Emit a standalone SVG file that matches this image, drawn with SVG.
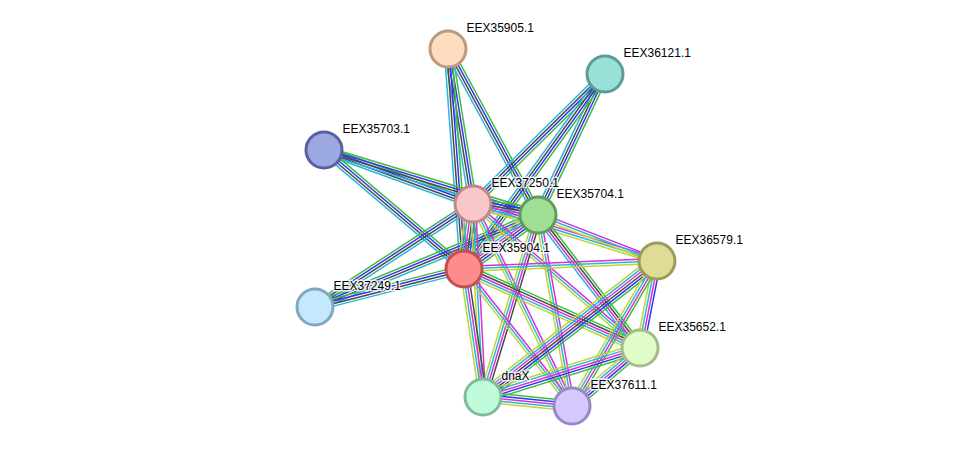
<svg xmlns="http://www.w3.org/2000/svg" width="976" height="451" viewBox="0 0 976 451">
<style>
line{stroke-width:1.5;fill:none}
.g{stroke:#3cbe3c}.b{stroke:#3434f4}.k{stroke:#4a4a4a}.c{stroke:#2ab6d8}.m{stroke:#d830d8}.y{stroke:#c2d430}
circle{stroke-width:3}
text{font-family:"Liberation Sans",Arial,sans-serif;font-size:12px;fill:#000;stroke:#fff;stroke-width:3;stroke-opacity:0.8;stroke-linejoin:round;paint-order:stroke}
</style>
<rect width="976" height="451" fill="#fff"/>
<g id="edges">
<!-- P1-A -->
<g transform="translate(448 49) rotate(80.84)"><line x2="157" y1="-3.75" y2="-3.75" class="g"/><line x2="157" y1="-1.25" y2="-1.25" class="b"/><line x2="157" y1="1.25" y2="1.25" class="k"/><line x2="157" y1="3.75" y2="3.75" class="c"/></g>
<!-- P1-B -->
<g transform="translate(448 49) rotate(61.54)"><line x2="188.8" y1="-3.75" y2="-3.75" class="g"/><line x2="188.8" y1="-1.25" y2="-1.25" class="b"/><line x2="188.8" y1="1.25" y2="1.25" class="k"/><line x2="188.8" y1="3.75" y2="3.75" class="c"/></g>
<!-- P1-C -->
<g transform="translate(448 49) rotate(85.84)"><line x2="220.6" y1="-3.75" y2="-3.75" class="g"/><line x2="220.6" y1="-1.25" y2="-1.25" class="b"/><line x2="220.6" y1="1.25" y2="1.25" class="k"/><line x2="220.6" y1="3.75" y2="3.75" class="c"/></g>
<!-- P2-A -->
<g transform="translate(605 74) rotate(135.44)"><line x2="185.3" y1="-3.75" y2="-3.75" class="g"/><line x2="185.3" y1="-1.25" y2="-1.25" class="b"/><line x2="185.3" y1="1.25" y2="1.25" class="k"/><line x2="185.3" y1="3.75" y2="3.75" class="c"/></g>
<!-- P2-B -->
<g transform="translate(605 74) rotate(115.41)"><line x2="156.1" y1="-3.75" y2="-3.75" class="g"/><line x2="156.1" y1="-1.25" y2="-1.25" class="b"/><line x2="156.1" y1="1.25" y2="1.25" class="k"/><line x2="156.1" y1="3.75" y2="3.75" class="c"/></g>
<!-- P2-C -->
<g transform="translate(605 74) rotate(125.87)"><line x2="240.6" y1="-3.75" y2="-3.75" class="g"/><line x2="240.6" y1="-1.25" y2="-1.25" class="b"/><line x2="240.6" y1="1.25" y2="1.25" class="k"/><line x2="240.6" y1="3.75" y2="3.75" class="c"/></g>
<!-- P3-A -->
<g transform="translate(324 150) rotate(19.92)"><line x2="158.5" y1="-3.75" y2="-3.75" class="g"/><line x2="158.5" y1="-1.25" y2="-1.25" class="b"/><line x2="158.5" y1="1.25" y2="1.25" class="k"/><line x2="158.5" y1="3.75" y2="3.75" class="c"/></g>
<!-- P3-B -->
<g transform="translate(324 150) rotate(16.90)"><line x2="223.7" y1="-3.75" y2="-3.75" class="g"/><line x2="223.7" y1="-1.25" y2="-1.25" class="b"/><line x2="223.7" y1="1.25" y2="1.25" class="k"/><line x2="223.7" y1="3.75" y2="3.75" class="c"/></g>
<!-- P3-C -->
<g transform="translate(324 150) rotate(40.36)"><line x2="183.7" y1="-3.75" y2="-3.75" class="g"/><line x2="183.7" y1="-1.25" y2="-1.25" class="b"/><line x2="183.7" y1="1.25" y2="1.25" class="k"/><line x2="183.7" y1="3.75" y2="3.75" class="c"/></g>
<!-- P4-A -->
<g transform="translate(315 307) rotate(-33.10)"><line x2="188.6" y1="-3.75" y2="-3.75" class="g"/><line x2="188.6" y1="-1.25" y2="-1.25" class="b"/><line x2="188.6" y1="1.25" y2="1.25" class="k"/><line x2="188.6" y1="3.75" y2="3.75" class="c"/></g>
<!-- P4-B -->
<g transform="translate(315 307) rotate(-22.42)"><line x2="241.2" y1="-3.75" y2="-3.75" class="g"/><line x2="241.2" y1="-1.25" y2="-1.25" class="b"/><line x2="241.2" y1="1.25" y2="1.25" class="k"/><line x2="241.2" y1="3.75" y2="3.75" class="c"/></g>
<!-- P4-C -->
<g transform="translate(315 307) rotate(-14.31)"><line x2="153.8" y1="-3.75" y2="-3.75" class="g"/><line x2="153.8" y1="-1.25" y2="-1.25" class="b"/><line x2="153.8" y1="1.25" y2="1.25" class="k"/><line x2="153.8" y1="3.75" y2="3.75" class="c"/></g>
<!-- A-B -->
<g transform="translate(473 204) rotate(9.61)"><line x2="65.9" y1="-6.25" y2="-6.25" class="g"/><line x2="65.9" y1="-3.75" y2="-3.75" class="b"/><line x2="65.9" y1="-1.25" y2="-1.25" class="k"/><line x2="65.9" y1="1.25" y2="1.25" class="m"/><line x2="65.9" y1="3.75" y2="3.75" class="c"/><line x2="65.9" y1="6.25" y2="6.25" class="y"/></g>
<!-- A-C -->
<g transform="translate(473 204) rotate(97.88)"><line x2="65.6" y1="-6.25" y2="-6.25" class="g"/><line x2="65.6" y1="-3.75" y2="-3.75" class="b"/><line x2="65.6" y1="-1.25" y2="-1.25" class="k"/><line x2="65.6" y1="1.25" y2="1.25" class="m"/><line x2="65.6" y1="3.75" y2="3.75" class="c"/><line x2="65.6" y1="6.25" y2="6.25" class="y"/></g>
<!-- B-C -->
<g transform="translate(538 215) rotate(143.88)"><line x2="91.6" y1="-6.25" y2="-6.25" class="g"/><line x2="91.6" y1="-3.75" y2="-3.75" class="b"/><line x2="91.6" y1="-1.25" y2="-1.25" class="k"/><line x2="91.6" y1="1.25" y2="1.25" class="m"/><line x2="91.6" y1="3.75" y2="3.75" class="c"/><line x2="91.6" y1="6.25" y2="6.25" class="y"/></g>
<!-- A-L1 -->
<g transform="translate(473 204) rotate(17.21)"><line x2="192.6" y1="-2.5" y2="-2.5" class="m"/><line x2="192.6" class="c"/><line x2="192.6" y1="2.5" y2="2.5" class="y"/></g>
<!-- A-L2 -->
<g transform="translate(473 204) rotate(40.77)"><line x2="220.5" y1="-2.5" y2="-2.5" class="m"/><line x2="220.5" class="c"/><line x2="220.5" y1="2.5" y2="2.5" class="y"/></g>
<!-- A-L3 -->
<g transform="translate(473 204) rotate(87.03)"><line x2="193.3" y1="-2.5" y2="-2.5" class="m"/><line x2="193.3" class="c"/><line x2="193.3" y1="2.5" y2="2.5" class="y"/></g>
<!-- A-L4 -->
<g transform="translate(473 204) rotate(63.89)"><line x2="225" y1="-2.5" y2="-2.5" class="m"/><line x2="225" class="c"/><line x2="225" y1="2.5" y2="2.5" class="y"/></g>
<!-- B-L1 -->
<g transform="translate(538 215) rotate(21.13)"><line x2="127.6" y1="-2.5" y2="-2.5" class="m"/><line x2="127.6" class="c"/><line x2="127.6" y1="2.5" y2="2.5" class="y"/></g>
<!-- B-L2 -->
<g transform="translate(538 215) rotate(52.51)"><line x2="167.6" y1="-3.75" y2="-3.75" class="g"/><line x2="167.6" y1="-1.25" y2="-1.25" class="k"/><line x2="167.6" y1="1.25" y2="1.25" class="m"/><line x2="167.6" y1="3.75" y2="3.75" class="c"/></g>
<!-- B-L3 -->
<g transform="translate(538 215) rotate(106.81)"><line x2="190.1" y1="-3.75" y2="-3.75" class="k"/><line x2="190.1" y1="-1.25" y2="-1.25" class="m"/><line x2="190.1" y1="1.25" y2="1.25" class="c"/><line x2="190.1" y1="3.75" y2="3.75" class="y"/></g>
<!-- B-L4 -->
<g transform="translate(538 215) rotate(79.91)"><line x2="194" y1="-2.5" y2="-2.5" class="m"/><line x2="194" class="c"/><line x2="194" y1="2.5" y2="2.5" class="y"/></g>
<!-- C-L1 -->
<g transform="translate(464 269) rotate(-2.37)"><line x2="193.2" y1="-2.5" y2="-2.5" class="m"/><line x2="193.2" class="c"/><line x2="193.2" y1="2.5" y2="2.5" class="y"/></g>
<!-- C-L2 -->
<g transform="translate(464 269) rotate(24.17)"><line x2="192.9" y1="-5" y2="-5" class="g"/><line x2="192.9" y1="-2.5" y2="-2.5" class="k"/><line x2="192.9" class="m"/><line x2="192.9" y1="2.5" y2="2.5" class="c"/><line x2="192.9" y1="5" y2="5" class="y"/></g>
<!-- C-L3 -->
<g transform="translate(464 269) rotate(81.56)"><line x2="129.4" y1="-3.75" y2="-3.75" class="k"/><line x2="129.4" y1="-1.25" y2="-1.25" class="m"/><line x2="129.4" y1="1.25" y2="1.25" class="c"/><line x2="129.4" y1="3.75" y2="3.75" class="y"/></g>
<!-- C-L4 -->
<g transform="translate(464 269) rotate(51.75)"><line x2="174.5" y1="-2.5" y2="-2.5" class="m"/><line x2="174.5" class="c"/><line x2="174.5" y1="2.5" y2="2.5" class="y"/></g>
<!-- L1-L2 -->
<g transform="translate(657 261) rotate(101.06)"><line x2="88.7" y1="-3.75" y2="-3.75" class="b"/><line x2="88.7" y1="-1.25" y2="-1.25" class="m"/><line x2="88.7" y1="1.25" y2="1.25" class="c"/><line x2="88.7" y1="3.75" y2="3.75" class="y"/></g>
<!-- L1-L3 -->
<g transform="translate(657 261) rotate(141.99)"><line x2="220.8" y1="-6.25" y2="-6.25" class="g"/><line x2="220.8" y1="-3.75" y2="-3.75" class="b"/><line x2="220.8" y1="-1.25" y2="-1.25" class="k"/><line x2="220.8" y1="1.25" y2="1.25" class="m"/><line x2="220.8" y1="3.75" y2="3.75" class="c"/><line x2="220.8" y1="6.25" y2="6.25" class="y"/></g>
<!-- L1-L4 -->
<g transform="translate(657 261) rotate(120.38)"><line x2="168.1" y1="-3.75" y2="-3.75" class="g"/><line x2="168.1" y1="-1.25" y2="-1.25" class="m"/><line x2="168.1" y1="1.25" y2="1.25" class="c"/><line x2="168.1" y1="3.75" y2="3.75" class="y"/></g>
<!-- L2-L3 -->
<g transform="translate(640 348) rotate(162.67)"><line x2="164.5" y1="-5" y2="-5" class="g"/><line x2="164.5" y1="-2.5" y2="-2.5" class="b"/><line x2="164.5" class="m"/><line x2="164.5" y1="2.5" y2="2.5" class="c"/><line x2="164.5" y1="5" y2="5" class="y"/></g>
<!-- L2-L4 -->
<g transform="translate(640 348) rotate(139.53)"><line x2="89.4" y1="-5" y2="-5" class="g"/><line x2="89.4" y1="-2.5" y2="-2.5" class="b"/><line x2="89.4" class="m"/><line x2="89.4" y1="2.5" y2="2.5" class="c"/><line x2="89.4" y1="5" y2="5" class="y"/></g>
<!-- L3-L4 -->
<g transform="translate(483 397) rotate(5.77)"><line x2="89.5" y1="-5" y2="-5" class="g"/><line x2="89.5" y1="-2.5" y2="-2.5" class="b"/><line x2="89.5" class="m"/><line x2="89.5" y1="2.5" y2="2.5" class="c"/><line x2="89.5" y1="5" y2="5" class="y"/></g>
</g>
<g id="n-EEX35905"><circle cx="448" cy="49" r="18" fill="#fedcc0" stroke="#ba9a80"/><text x="466.5" y="31.5">EEX35905.1</text></g>
<g id="n-EEX36121"><circle cx="605" cy="74" r="18" fill="#98e0d8" stroke="#5c9c94"/><text x="623.5" y="56.5">EEX36121.1</text></g>
<g id="n-EEX35703"><circle cx="324" cy="150" r="18" fill="#9ca8e2" stroke="#5860a0"/><text x="342.5" y="132.5">EEX35703.1</text></g>
<g id="n-EEX37249"><circle cx="315" cy="307" r="18" fill="#c4e8fc" stroke="#80a8c0"/><text x="333.5" y="289.5">EEX37249.1</text></g>
<g id="n-EEX36579"><circle cx="657" cy="261" r="18" fill="#e0dc98" stroke="#9c9c58"/><text x="675.5" y="243.5">EEX36579.1</text></g>
<g id="n-EEX35652"><circle cx="640" cy="348" r="18" fill="#e0fcc8" stroke="#a0bc88"/><text x="658.5" y="330.5">EEX35652.1</text></g>
<g id="n-dnaX"><circle cx="483" cy="397" r="18" fill="#c0fcdc" stroke="#80bc9c"/><text x="501.5" y="379.5">dnaX</text></g>
<g id="n-EEX37611"><circle cx="572" cy="406" r="18" fill="#d4c8fc" stroke="#9888c8"/><text x="590.5" y="388.5">EEX37611.1</text></g>
<g id="n-EEX37250"><circle cx="473" cy="204" r="18" fill="#f8c8c8" stroke="#c08888"/><text x="491.5" y="186.5">EEX37250.1</text></g>
<g id="n-EEX35704"><circle cx="538" cy="215" r="18" fill="#a0e094" stroke="#609c5c"/><text x="556.5" y="197.5">EEX35704.1</text></g>
<g id="n-EEX35904"><circle cx="464" cy="269" r="18" fill="#ff8c8c" stroke="#c05050"/><text x="482.5" y="251.5">EEX35904.1</text></g>
</svg>
